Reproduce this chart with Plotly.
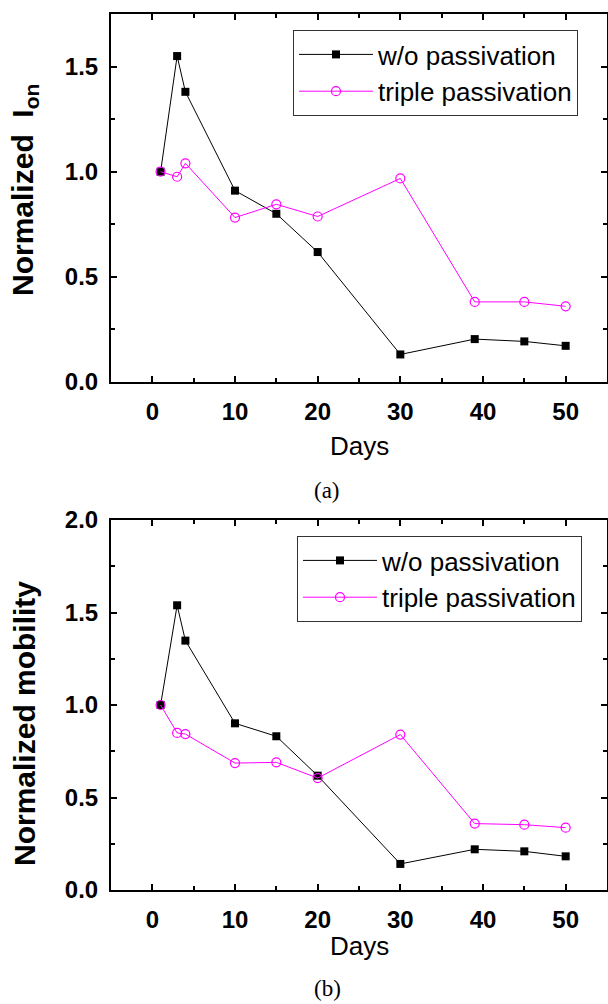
import plotly.graph_objects as go

days = [1, 3, 4, 10, 15, 20, 30, 39, 45, 50]
ion_wo = [1.0, 1.55, 1.38, 0.91, 0.80, 0.618, 0.131, 0.204, 0.193, 0.172]
ion_triple = [1.0, 0.976, 1.04, 0.782, 0.845, 0.787, 0.968, 0.381, 0.381, 0.36]
mob_wo = [1.0, 1.539, 1.348, 0.901, 0.831, 0.618, 0.141, 0.22, 0.209, 0.182]
mob_triple = [1.0, 0.849, 0.843, 0.686, 0.69, 0.605, 0.84, 0.359, 0.353, 0.337]
xticks = [0, 10, 20, 30, 40, 50]
names = ["w/o passivation", "triple passivation"]

W, H = 608, 1004
BLACK = "#000000"
MAG = "#FF00FF"
FONT = "Liberation Sans, Arial, sans-serif"

fig = go.Figure()

def add_pair(xa, ya, wo, tr, show):
    fig.add_trace(go.Scatter(
        x=days, y=wo, mode="lines+markers", name=names[0],
        line=dict(color=BLACK, width=1),
        marker=dict(symbol="square", size=8, color=BLACK),
        xaxis=xa, yaxis=ya, legend=show))
    fig.add_trace(go.Scatter(
        x=days, y=tr, mode="lines+markers", name=names[1],
        line=dict(color=MAG, width=1),
        marker=dict(symbol="circle-open", size=9, color=MAG, line=dict(width=1.2, color=MAG)),
        xaxis=xa, yaxis=ya, legend=show))

add_pair("x", "y", ion_wo, ion_triple, "legend")
add_pair("x2", "y2", mob_wo, mob_triple, "legend2")

def px_x(p):
    return p / W

def px_y(p):
    return 1 - p / H

axis_common = dict(
    showline=True, linecolor=BLACK, linewidth=2, mirror="allticks",
    ticks="inside", ticklen=6, tickwidth=1.5, tickcolor=BLACK,
    showgrid=False, zeroline=False, automargin=False,
    tickfont=dict(family=FONT, size=24, color=BLACK, weight="bold"),
)

xdom = [px_x(111), px_x(607)]
fig.update_layout(
    width=W, height=H,
    margin=dict(l=0, r=0, t=0, b=0),
    paper_bgcolor="white", plot_bgcolor="white",
    font=dict(family=FONT, color=BLACK),
    xaxis=dict(domain=xdom, range=[-5, 55], tickvals=xticks, anchor="y",
               minor=dict(dtick=5, tick0=0, ticks="inside", ticklen=4, tickwidth=1.5, tickcolor=BLACK),
               ticklabelstandoff=7, **axis_common),
    yaxis=dict(domain=[px_y(382), px_y(14)], range=[0, 1.75], dtick=0.5, tickformat=".1f", anchor="x",
               minor=dict(dtick=0.25, tick0=0, ticks="inside", ticklen=4, tickwidth=1.5, tickcolor=BLACK),
               ticklabelstandoff=6, **axis_common),
    xaxis2=dict(domain=xdom, range=[-5, 55], tickvals=xticks, anchor="y2",
                minor=dict(dtick=5, tick0=0, ticks="inside", ticklen=4, tickwidth=1.5, tickcolor=BLACK),
                ticklabelstandoff=7, **axis_common),
    yaxis2=dict(domain=[px_y(890), px_y(520)], range=[0, 2.0], dtick=0.5, tickformat=".1f", anchor="x2",
                minor=dict(dtick=0.25, tick0=0, ticks="inside", ticklen=4, tickwidth=1.5, tickcolor=BLACK),
                ticklabelstandoff=6, **axis_common),
    legend=dict(x=px_x(293), y=px_y(30), xanchor="left", yanchor="top",
                bordercolor="#333333", borderwidth=1, bgcolor="white",
                font=dict(family=FONT, size=26, color=BLACK), itemwidth=74,
                tracegroupgap=0),
    legend2=dict(x=px_x(297), y=px_y(536), xanchor="left", yanchor="top",
                 bordercolor="#333333", borderwidth=1, bgcolor="white",
                 font=dict(family=FONT, size=26, color=BLACK), itemwidth=74,
                 tracegroupgap=0),
    showlegend=True,
)

ann = []
ann.append(dict(text="Normalized&nbsp; I<sub>on</sub>", x=px_x(24), y=px_y(190), xref="paper", yref="paper",
                textangle=-90, showarrow=False, xanchor="center", yanchor="middle",
                font=dict(family=FONT, size=30, color=BLACK, weight="bold")))
ann.append(dict(text="Normalized mobility", x=px_x(24), y=px_y(724), xref="paper", yref="paper",
                textangle=-90, showarrow=False, xanchor="center", yanchor="middle",
                font=dict(family=FONT, size=30, color=BLACK, weight="bold")))
ann.append(dict(text="Days", x=px_x(359), y=px_y(446), xref="paper", yref="paper",
                showarrow=False, xanchor="center", yanchor="middle",
                font=dict(family=FONT, size=26, color=BLACK)))
ann.append(dict(text="Days", x=px_x(359), y=px_y(946), xref="paper", yref="paper",
                showarrow=False, xanchor="center", yanchor="middle",
                font=dict(family=FONT, size=26, color=BLACK)))
ann.append(dict(text="(a)", x=px_x(327), y=px_y(490), xref="paper", yref="paper",
                showarrow=False, xanchor="center", yanchor="middle",
                font=dict(family="Liberation Serif, Times New Roman, serif", size=23, color=BLACK)))
ann.append(dict(text="(b)", x=px_x(327), y=px_y(988), xref="paper", yref="paper",
                showarrow=False, xanchor="center", yanchor="middle",
                font=dict(family="Liberation Serif, Times New Roman, serif", size=23, color=BLACK)))
fig.update_layout(annotations=ann)

fig.write_html("out.html",
               config={"displayModeBar": False},
               post_script="document.body.style.margin='0px';document.body.style.overflow='hidden';")
